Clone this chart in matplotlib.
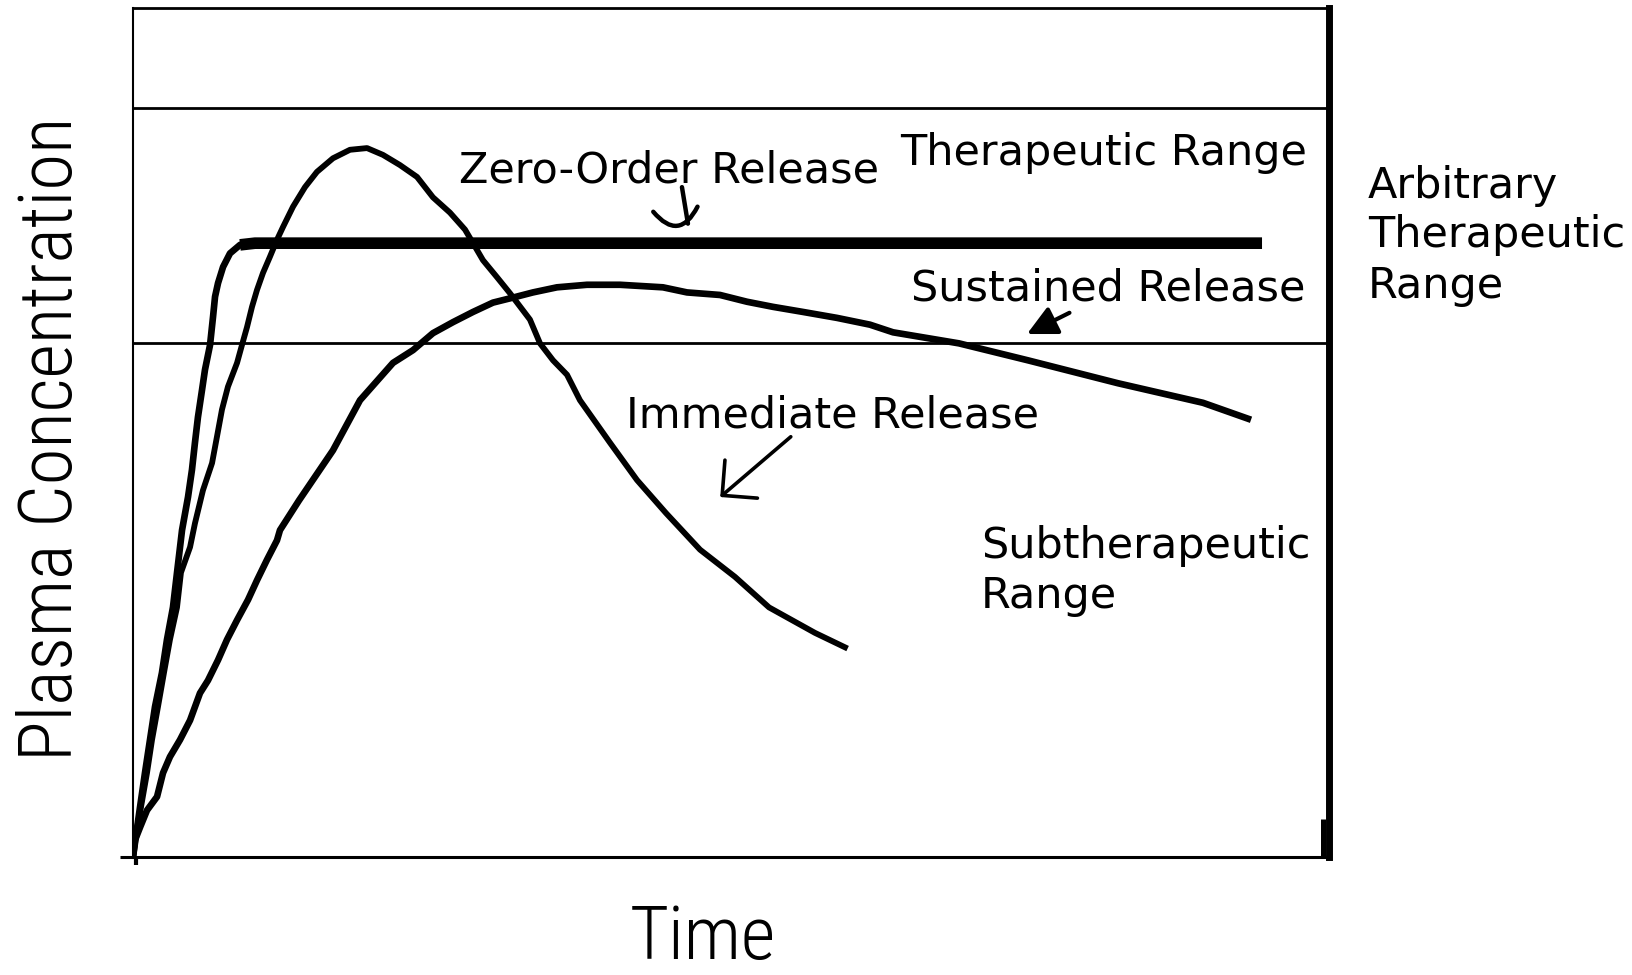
import matplotlib
matplotlib.use("Agg")
import matplotlib.pyplot as plt
from matplotlib import font_manager as fm

# ---------------- data (arbitrary units: time 0-100, concentration 0-100) ----------------
zero_x = [0.0, 0.59, 1.0, 1.42, 1.84, 2.42, 2.84, 3.34, 3.68, 4.10, 4.60, 4.93, 5.18, 5.43,
          5.77, 6.02, 6.44, 6.69, 6.86, 7.11, 7.53, 8.11, 8.95, 10.2, 94.4]
zero_y = [0.0, 5.9, 9.9, 13.8, 17.7, 21.7, 25.6, 29.4, 33.5, 38.5, 42.4, 45.6, 48.8, 51.8,
          55.0, 57.4, 60.3, 63.6, 66.0, 67.6, 69.5, 71.1, 72.1, 72.3, 72.3]

imm_x = [0.0, 0.25, 0.67, 1.17, 1.59, 2.09, 2.59, 3.09, 3.68, 4.01, 4.77, 5.18, 5.85, 6.61,
         7.02, 7.44, 7.94, 8.70, 9.11, 9.53, 9.95, 10.37, 10.87, 11.45, 12.04, 12.54, 13.38,
         14.38, 15.38, 16.72, 18.14, 19.57, 20.9, 22.32, 23.75, 25.08, 26.5, 27.76, 28.43,
         29.26, 30.43, 31.52, 33.19, 34.03, 35.12, 36.29, 37.37, 39.88, 42.14, 44.57, 47.41,
         50.33, 53.18, 57.02, 59.53]
imm_y = [0.0, 2.8, 5.9, 9.9, 13.8, 17.7, 21.7, 25.6, 29.4, 33.5, 36.5, 39.3, 43.2, 46.4,
         49.5, 52.7, 55.4, 58.2, 60.3, 62.4, 64.8, 66.8, 68.8, 70.7, 72.7, 74.2, 76.6,
         78.9, 80.7, 82.3, 83.3, 83.5, 82.7, 81.5, 80.1, 77.7, 75.9, 73.9, 72.3,
         70.3, 68.3, 66.4, 63.3, 60.5, 58.5, 56.8, 53.8, 48.8, 44.4, 40.5, 36.2,
         33.0, 29.4, 26.4, 24.7]

sus_x = [0.0, 0.17, 0.59, 1.17, 2.01, 2.51, 3.09, 3.93, 4.77, 5.60, 6.27, 7.11, 7.86, 8.70,
         9.62, 10.37, 11.20, 12.04, 12.29, 13.88, 16.72, 18.98, 21.74, 23.41, 25.08, 26.76,
         28.43, 30.10, 31.52, 33.44, 35.45, 37.96, 40.72, 44.31, 46.32, 49.08, 51.34, 53.51,
         56.02, 58.86, 61.62, 63.55, 69.06, 74.83, 82.36, 89.46, 93.48]
sus_y = [0.0, 2.0, 3.5, 5.5, 7.1, 9.9, 11.8, 13.8, 16.1, 19.3, 20.8, 23.2, 25.6, 27.9,
         30.3, 32.6, 35.0, 37.3, 38.5, 42.0, 47.9, 53.8, 58.2, 59.7, 61.7, 63.0,
         64.2, 65.3, 65.8, 66.5, 67.1, 67.4, 67.4, 67.1, 66.5, 66.2, 65.4, 64.8,
         64.2, 63.5, 62.7, 61.8, 60.5, 58.5, 55.8, 53.5, 51.5]

therapeutic_upper = 88.2
therapeutic_lower = 60.5

# ---------------- fonts ----------------
entries = fm.fontManager.ttflist
names = {f.name for f in entries}
big_kw = dict(family='DejaVu Sans', fontsize=42)
for cand, size in [('Liberation Sans Narrow', 56), ('Roboto Condensed', 54),
                   ('Open Sans Condensed', 54), ('DejaVu Sans Condensed', 50)]:
    if cand in names:
        big_kw = dict(family=cand, fontsize=size, fontweight='light')
        break
else:
    if any(f.name == 'DejaVu Sans' and str(f.stretch) in ('condensed', '75', 'semi-condensed', '87')
           for f in entries):
        big_kw = dict(family='DejaVu Sans', fontsize=48, fontstretch='condensed')
small_family, small_size = 'DejaVu Sans', 31

# ---------------- figure ----------------
W, H = 1632, 975
fig = plt.figure(figsize=(W / 100, H / 100), dpi=100)
ax = fig.add_axes([133 / W, (H - 857) / H, (1329 - 133) / W, (857 - 8) / H])
ax.set_xlim(0, 100)
ax.set_ylim(0, 100)
ax.set_xticks([])
ax.set_yticks([])

ax.spines['left'].set_linewidth(1.5)
ax.spines['top'].set_linewidth(2.0)
ax.spines['right'].set_linewidth(5.0)
ax.spines['bottom'].set_linewidth(2.2)
for s in ax.spines.values():
    s.set_capstyle('projecting')

# bottom axis extends a little to the left, small tick at origin, thick piece lower right
ax.plot([-13 / 1196, 0], [0, 0], transform=ax.transAxes, color='black', lw=2.2,
        clip_on=False, solid_capstyle='butt')
ax.plot([2.5 / 1196, 2.5 / 1196], [0, -8 / 849], transform=ax.transAxes, color='black',
        lw=3.0, clip_on=False, solid_capstyle='butt')
ax.plot([0.9954, 0.9954], [0, 0.0448], transform=ax.transAxes, color='black', lw=3.6,
        clip_on=False, solid_capstyle='butt')

# therapeutic range bounds
ax.axhline(therapeutic_upper, color='black', lw=2.0)
ax.axhline(therapeutic_lower, color='black', lw=2.0)

# curves
k = zero_y.index(max(zero_y))
ax.plot(zero_x[:k + 1], zero_y[:k + 1], color='black', lw=4.8, solid_joinstyle='round')
ax.plot(zero_x[k - 1:], zero_y[k - 1:], color='black', lw=8.4, solid_capstyle='butt')
ax.plot(imm_x, imm_y, color='black', lw=4.2, solid_joinstyle='round')
ax.plot(sus_x, sus_y, color='black', lw=4.8, solid_joinstyle='round', solid_capstyle='butt')

# annotation texts
txt = dict(family=small_family, fontsize=small_size, ha='left', va='baseline', color='black')
ax.text(27.26, 79.4, 'Zero-Order Release', **txt)
ax.text(64.1, 81.5, 'Therapeutic Range', **txt)
ax.text(65.05, 65.5, 'Sustained Release', **txt)
ax.text(41.2, 50.6, 'Immediate Release', **txt)
ax.text(70.9, 35.2, 'Subtherapeutic', **txt)
ax.text(70.9, 29.3, 'Range', **txt)

fig.text(1368 / W, (H - 198) / H, 'Arbitrary', **txt)
fig.text(1368 / W, (H - 247) / H, 'Therapeutic', **txt)
fig.text(1368 / W, (H - 298) / H, 'Range', **txt)

# arrows
ax.annotate('', xy=(49.1, 42.4), xytext=(55.0, 49.5),
            arrowprops=dict(arrowstyle='->,head_length=1.0,head_width=1.0', lw=2.6,
                            color='black', mutation_scale=18, shrinkA=0, shrinkB=0))
ax.annotate('', xy=(74.75, 61.6), xytext=(78.3, 64.1),
            arrowprops=dict(arrowstyle='-|>,head_length=0.9,head_width=0.45', lw=3.0,
                            color='black', mutation_scale=20, shrinkA=0, shrinkB=0))
# hook arrow under "Zero-Order Release"
ax.annotate('', xy=(46.4, 74.6), xytext=(45.9, 78.9),
            arrowprops=dict(arrowstyle='-', lw=3.2, color='black', shrinkA=0, shrinkB=0))
ax.annotate('', xy=(47.2, 76.6), xytext=(43.5, 76.0),
            arrowprops=dict(arrowstyle='-', lw=3.2, color='black', shrinkA=0, shrinkB=0,
                            connectionstyle='arc3,rad=0.75'))

# axis titles
fig.text(72 / W, (H - 438.5) / H, 'Plasma Concentration', rotation=90,
         rotation_mode='anchor', ha='center', va='baseline', color='black', **big_kw)
fig.text(703 / W, 1 / H, 'Time', ha='center', va='bottom', color='black', **big_kw)

fig.savefig('out.png', dpi=100, facecolor='white')
